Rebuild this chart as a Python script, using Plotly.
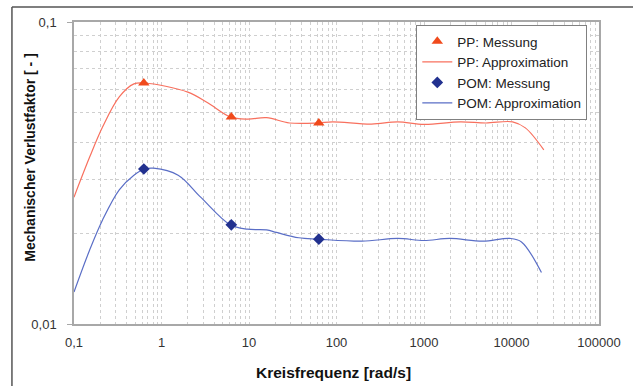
import plotly.graph_objects as go

# Measured points
meas_x = [0.628, 6.28, 62.8]
pp_meas = [0.0628, 0.0485, 0.0463]
pom_meas = [0.0326, 0.0213, 0.0191]

# Approximation curves
pp_x = [0.1, 0.151, 0.212, 0.329, 0.484, 0.645, 2.0, 3.37, 6.1, 9.6, 15.9, 29, 61.5, 90, 251, 500, 1000, 2600, 5100, 10300, 14400, 23400]
pp_y = [0.0263, 0.0357, 0.0449, 0.0565, 0.0624, 0.0628, 0.0586, 0.054, 0.0485, 0.0477, 0.0482, 0.0463, 0.0463, 0.0467, 0.0459, 0.0467, 0.0458, 0.0467, 0.0463, 0.0467, 0.0446, 0.0377]

pom_x = [0.1, 0.151, 0.212, 0.329, 0.484, 0.645, 0.81, 1.55, 2.8, 6.1, 9.6, 15.9, 20.6, 37, 62, 195, 500, 1000, 1980, 4700, 9600, 13000, 22000]
pom_y = [0.01276, 0.01758, 0.0221, 0.0278, 0.0311, 0.0326, 0.0328, 0.0311, 0.0263, 0.0213, 0.0206, 0.0205, 0.0201, 0.0193, 0.0191, 0.0188, 0.0192, 0.0189, 0.0192, 0.0188, 0.0192, 0.0187, 0.0148]

x_tickvals = [0.1, 1, 10, 100, 1000, 10000, 100000]
x_ticktext = ["0,1", "1", "10", "100", "1000", "10000", "100000"]
y_tickvals = [0.01, 0.1]
y_ticktext = ["0,01", "0,1"]

PP_MARK = "#f04a1c"
PP_LINE = "#f8705e"
POM_MARK = "#22318f"
POM_LINE = "#5a6ec6"
FONT = "Liberation Sans, Arial"

fig = go.Figure()
fig.add_trace(go.Scatter(x=pp_x, y=pp_y, mode="lines", name="PP: Approximation", legendrank=2,
                         line=dict(color=PP_LINE, width=1.2, shape="spline", smoothing=1.0)))
fig.add_trace(go.Scatter(x=pom_x, y=pom_y, mode="lines", name="POM: Approximation", legendrank=4,
                         line=dict(color=POM_LINE, width=1.2, shape="spline", smoothing=1.0)))
fig.add_trace(go.Scatter(x=meas_x, y=pp_meas, mode="markers", name="PP: Messung", legendrank=1,
                         marker=dict(symbol="triangle-up", size=10, color=PP_MARK)))
fig.add_trace(go.Scatter(x=meas_x, y=pom_meas, mode="markers", name="POM: Messung", legendrank=3,
                         marker=dict(symbol="diamond", size=9, color=POM_MARK)))

grid = "#cfcfcf"
fig.update_xaxes(type="log", range=[-1, 5], tickvals=x_tickvals, ticktext=x_ticktext,
                 showgrid=True, gridcolor=grid, griddash="dot", gridwidth=1,
                 minor=dict(dtick="D1", showgrid=True, gridcolor=grid, griddash="dot", gridwidth=1, ticks=""),
                 showline=True, linecolor="#a8a8a8", linewidth=1.5, mirror=True,
                 ticks="", zeroline=False, ticklabelstandoff=6,
                 tickfont=dict(family=FONT, size=13, color="#333333"))
fig.update_yaxes(type="log", range=[-2, -1], tickvals=y_tickvals, ticktext=y_ticktext,
                 showgrid=True, gridcolor=grid, griddash="dot", gridwidth=1,
                 minor=dict(dtick="D1", showgrid=True, gridcolor=grid, griddash="dot", gridwidth=1, ticks=""),
                 showline=True, linecolor="#a8a8a8", linewidth=1.5, mirror=True,
                 ticks="outside", ticklen=5, tickcolor="#a8a8a8", zeroline=False,
                 ticklabelstandoff=8,
                 tickfont=dict(family=FONT, size=13, color="#333333"))

fig.update_layout(
    width=633, height=386,
    margin=dict(l=74, r=26, t=22, b=62),
    paper_bgcolor="white", plot_bgcolor="white",
    showlegend=True,
    legend=dict(x=0.652, y=0.99, xanchor="left", yanchor="top",
                bgcolor="white", bordercolor="#808080", borderwidth=1,
                font=dict(family=FONT, size=13.5, color="#222222"),
                tracegroupgap=0),
    legend_traceorder="normal",
)

# axis titles
fig.add_annotation(text="<b>Kreisfrequenz [rad/s]</b>", xref="paper", yref="paper",
                   x=0.495, y=-0.159, showarrow=False, xanchor="center", yanchor="middle",
                   font=dict(family=FONT, size=15.5, color="#111111"))
fig.add_annotation(text="<b>Mechanischer Verlustfaktor [ - ]</b>", xref="paper", yref="paper",
                   x=-0.0844, y=0.553, showarrow=False, xanchor="center", yanchor="middle",
                   textangle=-90, font=dict(family=FONT, size=14, color="#111111"))

# outer frame (top and left edges)
fig.add_shape(type="line", xref="paper", yref="paper", x0=-0.1182, x1=1.2, y0=1.0497, y1=1.0497,
              line=dict(color="#555555", width=1.5))
fig.add_shape(type="line", xref="paper", yref="paper", x0=-0.1182, x1=-0.1182, y0=1.0497, y1=-0.3,
              line=dict(color="#555555", width=1.5))

fig.write_html("out.html")
